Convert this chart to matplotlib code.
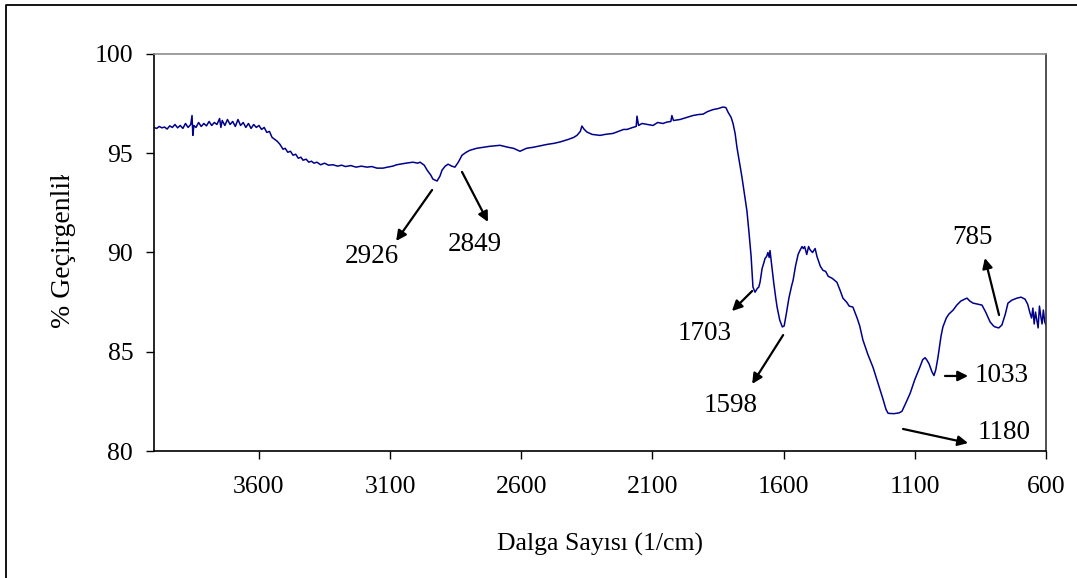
import matplotlib
matplotlib.use("Agg")

import matplotlib.pyplot as plt
from matplotlib.lines import Line2D
from matplotlib.transforms import Bbox, TransformedBbox

plt.rcParams["font.family"] = ["Liberation Serif", "DejaVu Serif"]

# =============================
# Spectrum
# =============================
wavenumber = [
    4000, 3990, 3980, 3970, 3960, 3950, 3940, 3930, 3920, 3910, 3900, 3890,
    3880, 3870, 3860, 3855, 3852, 3848, 3840, 3830, 3820, 3810, 3800, 3790,
    3780, 3770, 3760, 3750, 3745, 3740, 3730, 3720, 3710, 3700, 3690, 3680,
    3670, 3660, 3650, 3640, 3630, 3620, 3610, 3600, 3590, 3580, 3570, 3560,
    3550, 3540, 3530, 3520, 3508, 3500, 3490, 3480, 3470, 3460, 3450, 3440,
    3432, 3420, 3410, 3400, 3390, 3379, 3365, 3350, 3335, 3318, 3300, 3285,
    3270, 3250, 3230, 3210, 3188, 3170, 3150, 3127, 3110, 3090, 3075, 3062,
    3040, 3013, 2995, 2986, 2970, 2959, 2945, 2937, 2921, 2910, 2902, 2890,
    2879, 2865, 2853, 2840, 2826, 2810, 2796, 2770, 2746, 2720, 2681, 2650,
    2630, 2605, 2580, 2555, 2529, 2500, 2475, 2452, 2420, 2400, 2388, 2375,
    2369, 2360, 2350, 2330, 2300, 2280, 2250, 2230, 2210, 2197, 2175, 2162,
    2159, 2153, 2140, 2120, 2098, 2080, 2060, 2045, 2030, 2026, 2020, 1995,
    1970, 1946, 1925, 1907, 1890, 1869, 1850, 1831, 1820, 1812, 1800, 1793,
    1785, 1778, 1768, 1759, 1750, 1740, 1732, 1724, 1717, 1712, 1709, 1700,
    1695, 1690, 1682, 1675, 1671, 1665, 1660, 1655, 1652, 1645, 1638, 1630,
    1625, 1615, 1605, 1598, 1590, 1580, 1570, 1564, 1555, 1545, 1538, 1530,
    1525, 1520, 1512, 1505, 1500, 1490, 1480, 1473, 1465, 1460, 1450, 1440,
    1430, 1415, 1397, 1385, 1374, 1360, 1350, 1336, 1320, 1310, 1298, 1280,
    1259, 1240, 1221, 1210, 1202, 1180, 1160, 1149, 1135, 1118, 1100, 1080,
    1070, 1061, 1055, 1046, 1035, 1027, 1020, 1012, 1000, 993, 980, 970,
    954, 940, 925, 910, 901, 890, 878, 860, 844, 830, 813, 800,
    794, 780, 768, 755, 745, 730, 711, 695, 680, 670, 661, 655,
    650, 645, 640, 635, 630, 625, 620, 615, 610, 605, 600,
]
transmittance = [
    96.30, 96.25, 96.35, 96.28, 96.32, 96.22, 96.38, 96.30, 96.45, 96.28, 96.40, 96.25,
    96.50, 96.30, 96.45, 96.90, 95.90, 96.40, 96.30, 96.55, 96.35, 96.50, 96.38, 96.60,
    96.40, 96.55, 96.45, 96.75, 96.30, 96.65, 96.40, 96.70, 96.45, 96.60, 96.35, 96.70,
    96.40, 96.55, 96.30, 96.50, 96.25, 96.45, 96.30, 96.40, 96.20, 96.30, 96.05, 96.10,
    95.80, 95.70, 95.60, 95.45, 95.20, 95.25, 95.05, 95.10, 94.90, 94.95, 94.75, 94.80,
    94.65, 94.70, 94.55, 94.60, 94.50, 94.55, 94.42, 94.50, 94.40, 94.42, 94.35, 94.40,
    94.33, 94.38, 94.30, 94.35, 94.30, 94.33, 94.25, 94.25, 94.30, 94.35, 94.42, 94.45,
    94.50, 94.55, 94.50, 94.55, 94.40, 94.15, 93.90, 93.70, 93.60, 93.85, 94.15, 94.35,
    94.45, 94.35, 94.30, 94.55, 94.90, 95.05, 95.15, 95.25, 95.30, 95.35, 95.40, 95.30,
    95.25, 95.10, 95.25, 95.30, 95.37, 95.45, 95.50, 95.57, 95.70, 95.80, 95.90, 96.10,
    96.37, 96.20, 96.07, 95.95, 95.90, 95.95, 96.00, 96.10, 96.20, 96.20, 96.30, 96.35,
    96.87, 96.40, 96.50, 96.45, 96.40, 96.55, 96.50, 96.57, 96.60, 96.90, 96.65, 96.70,
    96.80, 96.90, 96.95, 96.97, 97.10, 97.20, 97.25, 97.33, 97.30, 97.07, 96.80, 96.50,
    96.00, 95.30, 94.50, 93.80, 93.00, 92.10, 91.00, 89.80, 88.26, 88.10, 88.00, 88.20,
    88.25, 88.50, 89.20, 89.50, 89.70, 89.80, 90.00, 89.75, 90.10, 89.30, 88.50, 87.70,
    87.25, 86.60, 86.25, 86.30, 86.90, 87.70, 88.30, 88.60, 89.30, 89.90, 90.10, 90.30,
    90.20, 90.30, 89.90, 90.30, 90.15, 90.00, 90.20, 89.80, 89.50, 89.30, 89.10, 89.05,
    88.80, 88.70, 88.50, 88.10, 87.70, 87.50, 87.30, 87.25, 86.70, 86.30, 85.60, 84.90,
    84.20, 83.40, 82.60, 82.10, 81.90, 81.88, 81.92, 82.00, 82.40, 82.90, 83.60, 84.25,
    84.60, 84.70, 84.60, 84.40, 84.00, 83.80, 84.10, 84.70, 85.80, 86.25, 86.70, 86.90,
    87.10, 87.35, 87.55, 87.65, 87.70, 87.55, 87.45, 87.40, 87.35, 87.00, 86.50, 86.30,
    86.25, 86.20, 86.35, 86.90, 87.45, 87.60, 87.70, 87.75, 87.65, 87.40, 86.95, 86.70,
    87.20, 86.40, 87.00, 86.60, 86.20, 87.30, 86.80, 86.40, 87.10, 86.50, 86.35,
]

x_ticks = [3600, 3100, 2600, 2100, 1600, 1100, 600]
y_ticks = [80, 85, 90, 95, 100]

# Peak labels: text position, arrow tail, arrow head (data units)
peak_labels = ["2926", "2849", "1703", "1598", "1180", "1033", "785"]
label_pos = [(3170, 89.8), (2776, 90.4), (1900, 85.9), (1801, 82.3),
             (760, 80.95), (770, 83.8), (882, 90.75)]
arrow_tail = [(2940, 93.15), (2826, 94.06), (1720, 88.06), (1602, 85.84),
              (1145, 81.11), (985, 83.78), (779, 86.85)]
arrow_head = [(3077, 90.58), (2727, 91.54), (1797, 87.05), (1720, 83.38),
              (897, 80.40), (897, 83.78), (833, 89.72)]

# =============================
# Figure
# =============================
W, H = 1077, 578
fig = plt.figure(figsize=(W / 100, H / 100), dpi=100)
ax = fig.add_axes([154 / W, 1 - 451 / H, (1046 - 154) / W, (451 - 54) / H])

ax.plot(wavenumber, transmittance, color="#00008B", lw=1.1)

ax.set_xlim(4000, 600)
ax.set_ylim(80, 100)
ax.set_xticks(x_ticks)
ax.set_yticks(y_ticks)
ax.tick_params(axis="both", direction="out", length=6, width=1, labelsize=18.5)
ax.tick_params(axis="x", pad=12)
ax.tick_params(axis="y", pad=9)

for side in ["left", "bottom"]:
    ax.spines[side].set_color("black")
    ax.spines[side].set_linewidth(1.2)
ax.spines["top"].set_color("#8c8c8c")
ax.spines["top"].set_linewidth(1.2)
ax.spines["right"].set_color("#333333")
ax.spines["right"].set_linewidth(1.2)

for label, pos, tail, head in zip(peak_labels, label_pos, arrow_tail, arrow_head):
    ax.annotate("", xy=head, xytext=tail,
                arrowprops=dict(arrowstyle="-|>", color="black", lw=1.6,
                                mutation_scale=15, shrinkA=0, shrinkB=0))
    ax.text(pos[0], pos[1], label, fontsize=19.5, ha="center", va="center")

# Axis titles
fig.text(600 / W, 1 - 544 / H, "Dalga Sayısı (1/cm)", fontsize=18.5,
         ha="center", va="center")
ylab = fig.text(63 / W, 1 - 328 / H, "% Geçirgenlik", fontsize=20,
                rotation=90, ha="center", va="bottom")
# the original label is cut off at the top
ylab.set_clip_box(TransformedBbox(Bbox([[0, 0], [1, 1 - 175 / H]]), fig.transFigure))
ylab.set_clip_on(True)

# Outer frame (only left and top edges visible)
fig.add_artist(Line2D([6 / W, 6 / W, 1.0], [0.0, 1 - 5 / H, 1 - 5 / H],
                      color="black", lw=1.3))

fig.savefig("out.png", dpi=100)
